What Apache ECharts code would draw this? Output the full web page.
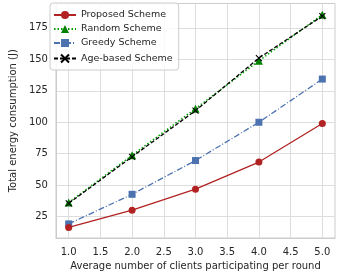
<!DOCTYPE html>
<html><head><meta charset="utf-8">
<script src="https://cdn.jsdelivr.net/npm/echarts@6/dist/echarts.min.js"></script>
<style>html,body{margin:0;padding:0;background:#fff}#c{width:338px;height:277px}</style>
</head><body><div id="c"></div>
<script>
const xValues = [1.0, 2.0, 3.0, 4.0, 5.0];
const proposed = [16.5, 30.2, 46.9, 68.4, 99.0];
const random = [36.2, 73.8, 110.8, 148.8, 185.4];
const greedy = [19.3, 42.8, 69.6, 100.0, 134.3];
const ageBased = [35.6, 72.6, 109.2, 151.0, 184.3];
const xTicks = [1.0, 1.5, 2.0, 2.5, 3.0, 3.5, 4.0, 4.5, 5.0];
const yTicks = [25, 50, 75, 100, 125, 150, 175];

const font = 'DejaVu Sans';
const toPairs = arr => xValues.map((x, i) => [x, arr[i]]);
const chart = echarts.init(document.getElementById('c'), null, {renderer: 'canvas'});
const axisCommon = {
  axisLine: {show: true, lineStyle: {color: '#cccccc', width: 1}},
  splitLine: {show: true, lineStyle: {color: '#dddddd', width: 1}},
};
chart.setOption({
  animation: false,
  grid: {left: 46, right: 3, top: 3.5, bottom: 39, show: true, borderColor: '#cccccc', borderWidth: 1},
  xAxis: Object.assign({}, axisCommon, {
    type: 'value', min: 0.8, max: 5.2,
    axisTick: {show: false, customValues: xTicks},
    axisLabel: {customValues: xTicks, formatter: v => v.toFixed(1), color: '#262626', fontFamily: font, fontSize: 10, margin: 9},
    name: 'Average number of clients participating per round',
    nameLocation: 'middle', nameGap: 20,
    nameTextStyle: {color: '#262626', fontFamily: font, fontSize: 10}
  }),
  yAxis: Object.assign({}, axisCommon, {
    type: 'value', min: 8.1, max: 194.3,
    axisTick: {show: false, customValues: yTicks},
    axisLabel: {customValues: yTicks, color: '#262626', fontFamily: font, fontSize: 10, margin: 8},
    name: 'Total energy consumption (J)',
    nameLocation: 'middle', nameGap: 30,
    nameTextStyle: {color: '#262626', fontFamily: font, fontSize: 10}
  }),
  legend: {
    orient: 'vertical', left: 50, top: 3, itemWidth: 22, itemHeight: 10, itemGap: 4,
    padding: [7, 6, 5, 3],
    backgroundColor: 'rgba(255,255,255,0.85)', borderColor: '#cccccc', borderWidth: 1, borderRadius: 3,
    textStyle: {color: '#262626', fontFamily: font, fontSize: 9.5},
    data: ['Proposed Scheme', 'Random Scheme', 'Greedy Scheme', 'Age-based Scheme']
  },
  series: [
    {name: 'Greedy Scheme', type: 'line', data: toPairs(greedy), symbol: 'rect', symbolSize: 7,
     itemStyle: {color: '#4c72b0'}, lineStyle: {color: '#4c72b0', width: 1.3, type: [6, 2, 1, 2]}},
    {name: 'Proposed Scheme', type: 'line', data: toPairs(proposed), symbol: 'circle', symbolSize: 7,
     itemStyle: {color: '#b22222'}, lineStyle: {color: '#b22222', width: 1.3}},
    {name: 'Random Scheme', type: 'line', data: toPairs(random), symbol: 'triangle', symbolSize: 8,
     itemStyle: {color: '#008000'}, lineStyle: {color: '#00a000', width: 1.5, type: [1.5, 2]}},
    {name: 'Age-based Scheme', type: 'line', data: toPairs(ageBased),
     symbol: 'path://M0,0L2,2M2,0L0,2', symbolSize: 6,
     itemStyle: {color: 'none', borderColor: '#000000', borderWidth: 1.1}, lineStyle: {color: '#000000', width: 1.3, type: [4, 2]}}
  ]
});
</script></body></html>
